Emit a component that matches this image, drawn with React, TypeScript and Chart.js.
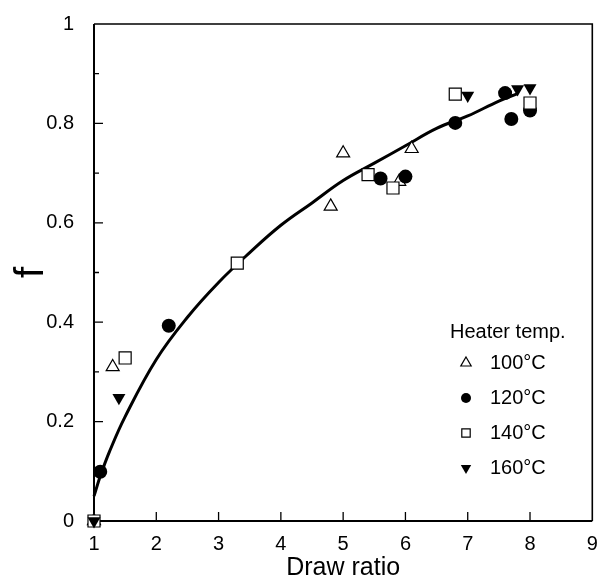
import React, { useEffect, useRef } from "react";
import { Chart, registerables } from "chart.js";

Chart.register(...registerables);

const t100X = [1, 1.3, 4.8, 5.0, 5.9, 6.1];
const t100Y = [0, 0.31, 0.633, 0.74, 0.683, 0.749];
const t120X = [1.1, 2.2, 5.6, 6.0, 6.8, 7.6, 7.7, 8.0];
const t120Y = [0.099, 0.393, 0.689, 0.693, 0.801, 0.861, 0.809, 0.826];
const t140X = [1, 1.5, 3.3, 5.4, 5.8, 6.8, 8.0];
const t140Y = [0, 0.328, 0.519, 0.697, 0.67, 0.859, 0.841];
const t160X = [1, 1.4, 7.0, 7.8, 8.0];
const t160Y = [0, 0.248, 0.856, 0.869, 0.871];

const fitX = [1, 1.1, 1.25, 1.5, 2, 2.5, 3, 3.5, 4, 4.5, 5, 5.5, 6, 6.5, 7, 7.5, 7.8];
const fitY = [0.05, 0.09, 0.14, 0.21, 0.325, 0.41, 0.48, 0.54, 0.595, 0.64, 0.685, 0.72, 0.755, 0.79, 0.815, 0.845, 0.86];

const xTicks = [1, 2, 3, 4, 5, 6, 7, 8, 9];
const yMajor = [0, 0.2, 0.4, 0.6, 0.8, 1];
const yMinor = [0.1, 0.3, 0.5, 0.7, 0.9];

const legendTitle = "Heater temp.";
const legendLabels = ["100°C", "120°C", "140°C", "160°C"];

const FONT = "'Liberation Sans', Arial, Helvetica, sans-serif";

const pts = (xs: number[], ys: number[]) => xs.map((x, i) => ({ x, y: ys[i] }));

function drawMarker(ctx: CanvasRenderingContext2D, kind: number, x: number, y: number, s: number) {
  ctx.save();
  ctx.lineWidth = 1.2;
  ctx.strokeStyle = "#000";
  ctx.beginPath();
  if (kind === 0) {
    const r = s;
    ctx.moveTo(x, y - r);
    ctx.lineTo(x + r * 0.866, y + r * 0.5);
    ctx.lineTo(x - r * 0.866, y + r * 0.5);
    ctx.closePath();
    ctx.fillStyle = "#fff";
    ctx.fill();
    ctx.stroke();
  } else if (kind === 1) {
    ctx.arc(x, y, s, 0, Math.PI * 2);
    ctx.fillStyle = "#000";
    ctx.fill();
  } else if (kind === 2) {
    ctx.rect(x - s, y - s, 2 * s, 2 * s);
    ctx.fillStyle = "#fff";
    ctx.fill();
    ctx.stroke();
  } else {
    const r = s;
    ctx.moveTo(x, y + r);
    ctx.lineTo(x + r * 0.866, y - r * 0.5);
    ctx.lineTo(x - r * 0.866, y - r * 0.5);
    ctx.closePath();
    ctx.fillStyle = "#000";
    ctx.fill();
  }
  ctx.restore();
}

const framePlugin = {
  id: "frame",
  beforeDatasetsDraw(chart: any) {
    const { ctx, chartArea: a, scales } = chart;
    const xs = scales.x;
    const ys = scales.y;
    ctx.save();
    ctx.strokeStyle = "#000";
    ctx.lineWidth = 2;
    ctx.beginPath();
    ctx.moveTo(a.left, a.top);
    ctx.lineTo(a.left, a.bottom);
    ctx.lineTo(a.right, a.bottom);
    ctx.stroke();
    ctx.lineWidth = 1.6;
    ctx.beginPath();
    ctx.moveTo(a.left, a.top);
    ctx.lineTo(a.right, a.top);
    ctx.lineTo(a.right, a.bottom);
    ctx.stroke();
    ctx.lineWidth = 1.3;
    ctx.beginPath();
    xTicks.forEach((v) => {
      const px = xs.getPixelForValue(v);
      if (v > xTicks[0] && v < xTicks[xTicks.length - 1]) {
        ctx.moveTo(px, a.bottom);
        ctx.lineTo(px, a.bottom - 9);
      }
    });
    yMajor.forEach((v) => {
      const py = ys.getPixelForValue(v);
      if (v > 0 && v < 1) {
        ctx.moveTo(a.left, py);
        ctx.lineTo(a.left + 9, py);
      }
    });
    yMinor.forEach((v) => {
      const py = ys.getPixelForValue(v);
      ctx.moveTo(a.left, py);
      ctx.lineTo(a.left + 5, py);
    });
    ctx.stroke();
    ctx.restore();
  },
  afterDraw(chart: any) {
    const { ctx } = chart;
    ctx.save();
    ctx.fillStyle = "#000";
    ctx.font = `20px ${FONT}`;
    ctx.textBaseline = "middle";
    ctx.textAlign = "left";
    ctx.fillText(legendTitle, 450, 332);
    const rows = [363, 398, 433, 468];
    const sizes = [6, 5, 4.2, 6];
    legendLabels.forEach((lab, i) => {
      drawMarker(ctx, i, 466, rows[i], sizes[i]);
      ctx.fillStyle = "#000";
      ctx.fillText(lab, 490, rows[i]);
    });
    ctx.restore();
  },
};

export default function App() {
  const ref = useRef<HTMLCanvasElement>(null);
  useEffect(() => {
    if (!ref.current) return;
    const chart = new Chart(ref.current, {
      type: "scatter",
      data: {
        datasets: [
          {
            label: "160°C",
            data: pts(t160X, t160Y),
            pointStyle: "triangle",
            rotation: 180,
            pointRadius: 7.5,
            backgroundColor: "#000",
            borderColor: "#000",
            borderWidth: 0,
            clip: false,
          } as any,
          {
            label: "140°C",
            data: pts(t140X, t140Y),
            pointStyle: "rect",
            pointRadius: 8.5,
            backgroundColor: "#fff",
            borderColor: "#000",
            borderWidth: 1.2,
            clip: false,
          },
          {
            label: "120°C",
            data: pts(t120X, t120Y),
            pointStyle: "circle",
            pointRadius: 7,
            backgroundColor: "#000",
            borderColor: "#000",
            borderWidth: 0,
            clip: false,
          },
          {
            label: "100°C",
            data: pts(t100X, t100Y),
            pointStyle: "triangle",
            pointRadius: 7.5,
            backgroundColor: "#fff",
            borderColor: "#000",
            borderWidth: 1.2,
            clip: false,
          },
          {
            label: "fit",
            data: pts(fitX, fitY),
            showLine: true,
            pointRadius: 0,
            borderColor: "#000",
            borderWidth: 3,
            tension: 0.4,
            clip: false,
          } as any,
        ],
      },
      options: {
        animation: false,
        responsive: false,
        layout: { padding: { top: 24, right: 6, left: 0, bottom: 0 } },
        plugins: { legend: { display: false }, tooltip: { enabled: false } },
        scales: {
          x: {
            type: "linear",
            min: 1,
            max: 9,
            afterFit: (s: any) => {
              s.height = 56;
              s.paddingLeft = 0;
              s.paddingRight = 0;
            },
            grid: { display: false },
            border: { display: false },
            ticks: { stepSize: 1, color: "#000", font: { family: FONT, size: 20 }, padding: 3 },
            title: {
              display: true,
              text: "Draw ratio",
              color: "#000",
              font: { family: FONT, size: 25, lineHeight: 0.7 },
              padding: 0,
            },
          },
          y: {
            type: "linear",
            min: 0,
            max: 1,
            afterFit: (s: any) => {
              s.width = 94;
              s.paddingTop = 0;
              s.paddingBottom = 0;
            },
            grid: { display: false },
            border: { display: false },
            ticks: {
              stepSize: 0.2,
              color: "#000",
              font: { family: FONT, size: 20 },
              padding: 12,
              callback: (v: any) => String(Math.round(Number(v) * 10) / 10),
            },
            title: {
              display: true,
              text: "f",
              color: "#000",
              font: { family: FONT, size: 40, lineHeight: 1.2 },
              padding: { top: 8, bottom: 0 },
            },
          },
        },
      },
      plugins: [framePlugin],
    });
    return () => chart.destroy();
  }, []);
  return (
    <canvas
      ref={ref}
      width={602}
      height={577}
      style={{ position: "absolute", left: 0, top: 0, width: 602, height: 577 }}
    />
  );
}
